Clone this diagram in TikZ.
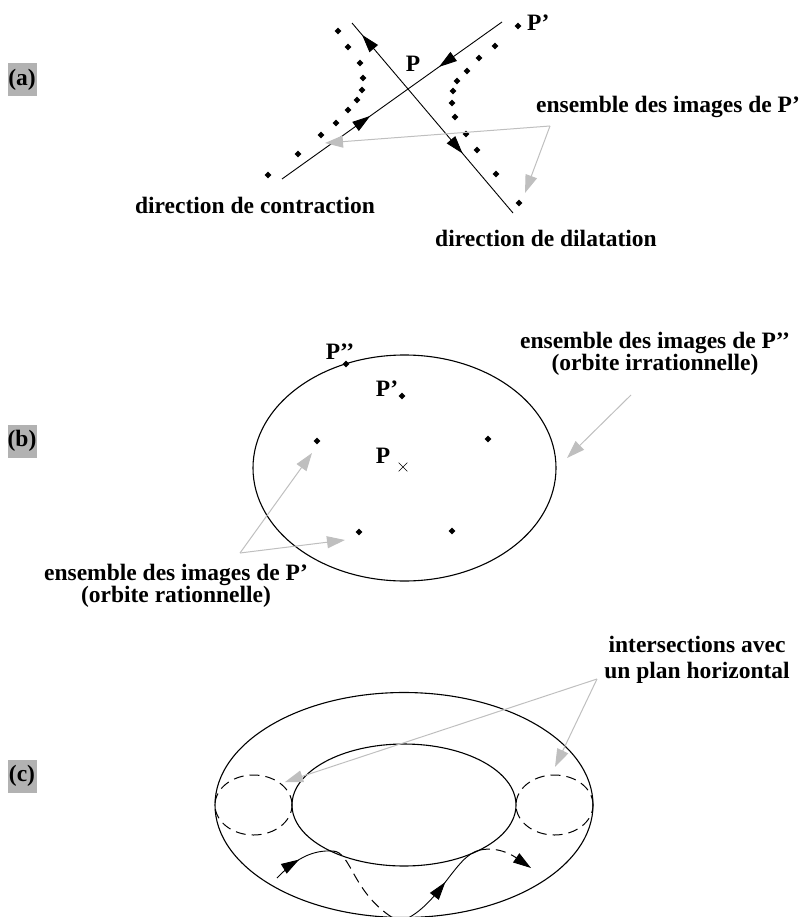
\documentclass[tikz,border=0pt]{standalone}
\usepackage{fontspec}
\setmainfont{Liberation Serif}
\usetikzlibrary{positioning, arrows.meta, shapes.geometric, shapes.misc, decorations.markings}

\begin{document}
\begin{tikzpicture}[
    % GLOBAL CFG
    x=1pt, y=-1pt,
    font=\bfseries\fontsize{23.5}{22}\selectfont,
    >={Triangle[length=18pt, width=11pt]},
    % Styles
    panel/.style={% For the tags (a), (b), (c)
        rectangle,
        fill=black!30,
        minimum width=29pt,
        minimum height=33pt,
        inner sep=0pt,
    },
    mylabel/.style={% For texts
        inner sep=0pt,
        align=center,
    },
    imgdot/.style={% For the images of a point
        diamond,
        fill=black,
        minimum size=7pt,
        inner sep=0pt,
    },
    fixpt/.style={% For the fixed point
        cross out,
        draw,
        minimum size=8pt,
        inner sep=0pt,
        line width=.6pt,
    },
    pointer/.style={% Grey arrows from the texts
        draw=black!25,
        line width=1pt,
        -{Triangle[length=18pt, width=12pt]},
    },
    midarrow/.style={% Arrow tip inside a line
        postaction=decorate,
        decoration={markings, mark=at position #1 with {\arrow{>}}},
    },
    ArrowL/.style={% Straight lines
        line width=.9pt,
    },
    ArrowO/.style={% Ellipses
        line width=1.1pt,
    },
    hidden/.style={% Parts under the torus
        line width=1pt,
        dash pattern=on 10pt off 6pt,
    },
    ]

    \useasboundingbox (0,0) rectangle (804,917);

    % Tags
    \node [panel] (taga) at (22,80) {(a)};
    \node [panel] (tagb) at (22,441) {(b)};
    \node [panel] (tagc) at (22,776) {(c)};

    % (a) hyperbolic point
    \coordinate (P) at (408,89);
    \coordinate (c1) at (282,179);
    \coordinate (c2) at (502,22);
    \coordinate (d1) at (352,23);
    \coordinate (d2) at (513,213);
    \draw [ArrowL, midarrow=.70] (c1) -- (P);
    \draw [ArrowL, midarrow=.67] (c2) -- (P);
    \draw [ArrowL, midarrow=.82] (P) -- (d1);
    \draw [ArrowL, midarrow=.52] (P) -- (d2);

    % Images of P' named l# and r#
    \foreach \x/\y [count=\i] in {268/175, 298/154, 321/135, 336/123, 348/110,
        357/100, 362/90, 363/78, 360/63, 348/47, 338/31}
        \node [imgdot] (l\i) at (\x,\y) {};
    \foreach \x/\y [count=\i] in {518/26, 495/46, 479/58, 467/71, 457/81,
        453/91, 452/103, 455/117, 466/134, 477/150, 496/174, 519/203}
        \node [imgdot] (r\i) at (\x,\y) {};

    \node [mylabel] (Pa) at (413,64) {P};
    \node [mylabel, anchor=west] (P1a) at (527,23) {P’};
    \node [mylabel] (contr) at (255,205) {direction de contraction};
    \node [mylabel] (dilat) at (546,238) {direction de dilatation};
    \node [mylabel] (setA) at (668,107) {ensemble des images de P’};

    \coordinate (brA) at (550,126);
    \coordinate (tA1) at (325,143);
    \coordinate (tA2) at (525,193);
    \draw [pointer] (brA) -- (tA1);
    \draw [pointer] (brA) -- (tA2);

    % (b) elliptic point
    \coordinate (bc) at (404.5,468);
    \draw [ArrowO] (bc) ellipse [x radius=151.5pt, y radius=113pt];
    \node [imgdot] (q2) at (346,364) {};
    \node [imgdot] (q1) at (402,396) {};
    \foreach \x/\y [count=\i] in {317/441, 488/439, 359/532, 452/531}
        \node [imgdot] (o\i) at (\x,\y) {};
    \node [fixpt] (Pb) at (403,467) {};

    \node [mylabel] (Pbl) at (383,456) {P};
    \node [mylabel] (P1b) at (387,389) {P’};
    \node [mylabel] (P2b) at (340,352) {P’’};
    \node [mylabel] (irr) at (655,354) {ensemble des images de P’’\\(orbite irrationnelle)};
    \node [mylabel] (rat) at (176,586) {ensemble des images de P’\\(orbite rationnelle)};

    \coordinate (brB1) at (631,395);
    \coordinate (tB1) at (567,458);
    \draw [pointer] (brB1) -- (tB1);
    \coordinate (brB2) at (240,553);
    \coordinate (tB2) at (312,453);
    \coordinate (tB3) at (345,540);
    \draw [pointer] (brB2) -- (tB2);
    \draw [pointer] (brB2) -- (tB3);

    % (c) torus
    \coordinate (tc) at (404,805);
    \draw [ArrowO] (tc) ellipse [x radius=189pt, y radius=112.5pt];
    \draw [ArrowO] (tc) ellipse [x radius=112pt, y radius=61pt];
    \coordinate (cl) at (253.5,805);
    \coordinate (cr) at (554.5,805);
    \draw [hidden] (cl) ellipse [x radius=38.5pt, y radius=30pt];
    \draw [hidden] (cr) ellipse [x radius=38.5pt, y radius=30pt];

    % Trajectory on the torus
    \coordinate (w0) at (277,878);
    \coordinate (w1) at (333,851);
    \coordinate (w2) at (398,921);
    \coordinate (w3) at (402,921);
    \coordinate (w4) at (480,850);
    \coordinate (w5) at (531,868);
    \draw [ArrowL, midarrow=.45] (w0) .. controls (298,856) and (315,850) .. (w1);
    \draw [hidden] (w1) .. controls (352,852) and (352,895) .. (w2);
    \draw [ArrowL, midarrow=.55] (w3) .. controls (440,905) and (455,855) .. (w4);
    \draw [hidden, ->] (w4) .. controls (500,846) and (515,857) .. (w5);

    \node [mylabel, font=\bfseries\fontsize{23.5}{26}\selectfont] (inter) at (697,660) {intersections avec\\un plan horizontal};
    \coordinate (brC) at (597,679);
    \coordinate (tC1) at (285,782);
    \coordinate (tC2) at (555,767);
    \draw [pointer] (brC) -- (tC1);
    \draw [pointer] (brC) -- (tC2);

\end{tikzpicture}
\end{document}
